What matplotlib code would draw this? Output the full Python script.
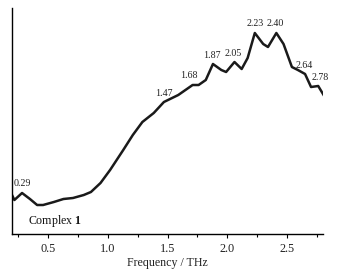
import numpy as np
import matplotlib
matplotlib.use("Agg")
import matplotlib.pyplot as plt
from matplotlib.ticker import MultipleLocator

plt.rcParams['font.family'] = ['Liberation Serif', 'DejaVu Serif']
plt.rcParams['mathtext.fontset'] = 'custom'
plt.rcParams['mathtext.rm'] = 'Liberation Serif'
plt.rcParams['mathtext.bf'] = 'Liberation Serif:bold'

# spectrum (arbitrary units)
freq = [0.20, 0.22, 0.284, 0.35, 0.41, 0.46, 0.55, 0.63, 0.71, 0.80, 0.86, 0.94,
        1.02, 1.13, 1.21, 1.29, 1.385, 1.47, 1.59, 1.71, 1.76, 1.82, 1.88, 1.95,
        1.99, 2.06, 2.12, 2.17, 2.23, 2.30, 2.34, 2.41, 2.47, 2.54, 2.59, 2.65,
        2.70, 2.76, 2.81]
signal = [39, 34, 41, 35, 29, 29, 32, 35, 36, 39, 42, 51,
          64, 84, 99, 112, 121, 132, 139, 149, 149, 154, 170, 164,
          162, 172, 165, 176, 201, 190, 187, 201, 190, 167, 164, 160,
          147, 148, 138]
peak_labels = ["0.29", "1.47", "1.68", "1.87", "2.05", "2.23", "2.40", "2.64", "2.78"]

freq = np.array(freq)
signal = np.array(signal)

fig = plt.figure(figsize=(3.4, 2.72), dpi=100)
ax = fig.add_axes([12/340, 1 - 234/272, 311/340, 226/272])

ax.plot(freq, signal, color='#1a1a1a', lw=1.8, solid_joinstyle='round')

# peak labels above the curve
for lab in peak_labels:
    f = float(lab)
    win = (freq >= f - 0.04) & (freq <= f + 0.04)
    top = signal[win].max() if win.any() else np.interp(f, freq, signal)
    ax.text(f, top + 9, lab, ha='center', va='center', fontsize=7.2, color='#222222')

ax.text(0.05, 0.058, r'Complex $\mathbf{1}$', transform=ax.transAxes,
        fontsize=8.6, va='center', ha='left', color='#111111')

ax.set_xlim(0.2, 2.8)
ax.set_ylim(0, 226)
ax.xaxis.set_major_locator(MultipleLocator(0.5))
ax.xaxis.set_minor_locator(MultipleLocator(0.25))
ax.tick_params(axis='x', which='major', length=3, width=0.8, labelsize=8.8, pad=3.5,
               labelcolor='#222222')
ax.tick_params(axis='x', which='minor', length=2, width=0.8)
ax.set_yticks([])
ax.spines['top'].set_visible(False)
ax.spines['right'].set_visible(False)
ax.spines['left'].set_linewidth(1.0)
ax.spines['bottom'].set_linewidth(1.0)
ax.set_xlabel('Frequency / THz', fontsize=8.6, labelpad=1.5, color='#222222')

fig.savefig('out.png', dpi=100)
